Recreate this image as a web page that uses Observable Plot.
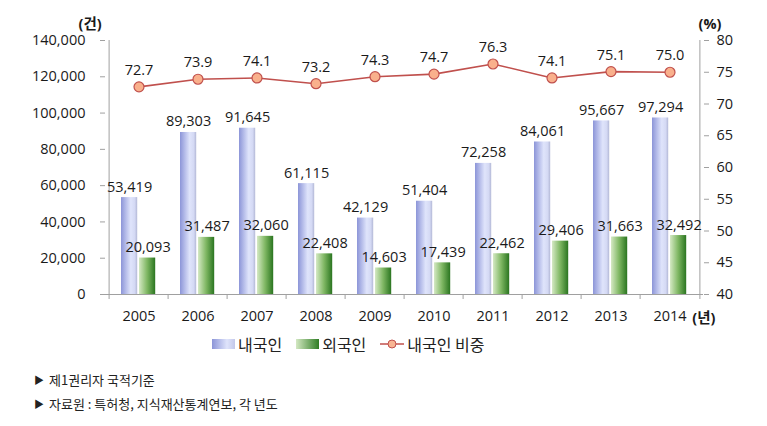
<!DOCTYPE html>
<html><head><meta charset="utf-8">
<script src="https://cdn.jsdelivr.net/npm/d3@7"></script>
<script src="https://cdn.jsdelivr.net/npm/@observablehq/plot@0.6"></script>
<style>
body{margin:0;background:#fff;font-family:"Open Sans","Noto Sans CJK KR",sans-serif;color:#222;}
#wrap{position:relative;width:767px;height:426px;}
#legend{position:absolute;top:332px;left:212px;display:flex;align-items:center;font-family:"Noto Sans CJK KR",sans-serif;font-size:16px;color:#222;}
.sw{display:inline-block;width:23px;height:10px;margin-right:3px;}
.item{display:flex;align-items:center;margin-right:14px;}
.notes{position:absolute;left:34px;font-family:"Noto Sans CJK KR",sans-serif;font-size:13px;color:#222;}
.tri{font-size:10px;margin-right:5px;vertical-align:1px;}
</style></head>
<body><div id="wrap"><div id="chart"></div>
<div id="legend">
 <div class="item"><span class="sw" style="background:linear-gradient(to right,#8c95d8,#dfe4fb 65%,#c3c8ea)"></span>내국인</div>
 <div class="item"><span class="sw" style="background:linear-gradient(to right,#d3e8c2,#2f7d24)"></span>외국인</div>
 <div class="item"><svg width="24" height="12" style="margin-right:3px"><line x1="0" x2="24" y1="6" y2="6" stroke="#c0504d" stroke-width="1.5"/><circle cx="12" cy="6" r="4" fill="#f8b593" stroke="#c0504d"/></svg>내국인 비중</div>
</div>
<div class="notes" style="top:370px"><span class="tri">▶</span>제1권리자 국적기준</div>
<div class="notes" style="top:394px"><span class="tri">▶</span>자료원 : 특허청, 지식재산통계연보, 각 년도</div>
</div>
<script>
const years = ["2005","2006","2007","2008","2009","2010","2011","2012","2013","2014"];
const domestic = [53419, 89303, 91645, 61115, 42129, 51404, 72258, 84061, 95667, 97294];
const foreign = [20093, 31487, 32060, 22408, 14603, 17439, 22462, 29406, 31663, 32492];
const share = [72.7, 73.9, 74.1, 73.2, 74.3, 74.7, 76.3, 74.1, 75.1, 75.0];
const leftTicks = [0, 20000, 40000, 60000, 80000, 100000, 120000, 140000];
const rightTicks = [40, 45, 50, 55, 60, 65, 70, 75, 80];

const LMAX = 140000, RMIN = 40, RMAX = 80;
const toLeft = p => (p - RMIN) / (RMAX - RMIN) * LMAX;
const fromLeft = v => Math.round(v / LMAX * (RMAX - RMIN) + RMIN);

const data = years.map((y, i) => ({year: y, domestic: domestic[i], foreign: foreign[i], share: share[i]}));
const fmt = d3.format(",");
const W = 767, ML = 105, MR = 64;
const bw = (W - ML - MR) / years.length;
const axisGrey = "#a0a0a0";

const chart = Plot.plot({
  width: W, height: 334,
  marginLeft: ML, marginRight: MR, marginTop: 40, marginBottom: 40,
  style: {fontFamily: '"Open Sans","Noto Sans CJK KR",sans-serif', fontSize: "14.5px", color: "#1a1a1a", background: "#fff"},
  x: {type: "band", domain: years, padding: 0},
  y: {domain: [0, LMAX]},
  marks: [
    Plot.barY(data, {x: "year", y: "domestic", fill: "url(#gBlue)", insetLeft: 12, insetRight: bw - 29}),
    Plot.barY(data, {x: "year", y: "foreign", fill: "url(#gGreen)", insetLeft: 30, insetRight: bw - 47}),
    Plot.ruleY([0], {stroke: axisGrey}),
    Plot.ruleX(years, {x: d => d, y1: 0, y2: -LMAX * 5 / 254, dx: -bw / 2, stroke: axisGrey}),
    Plot.ruleX([years[0]], {x: d => d, y1: 0, y2: LMAX, dx: -bw / 2, stroke: axisGrey}),
    Plot.ruleX([years[years.length - 1]], {x: d => d, y1: -LMAX * 5 / 254, y2: LMAX, dx: bw / 2, stroke: axisGrey}),
    Plot.axisY(leftTicks, {anchor: "left", tickFormat: fmt, tickSize: 5, tickPadding: 15, stroke: axisGrey, fill: "#1a1a1a", label: null}),
    Plot.axisY(rightTicks.map(toLeft), {anchor: "right", tickFormat: d => String(fromLeft(d)), tickSize: 5, tickPadding: 8, stroke: axisGrey, fill: "#1a1a1a", label: null}),
    Plot.axisX({tickSize: 0, tickPadding: 16, label: null, fill: "#1a1a1a"}),
    Plot.text(data, {x: "year", y: "domestic", text: d => fmt(d.domestic), dx: 20.5 - bw / 2, dy: -6, lineAnchor: "bottom", fill: "#1a1a1a"}),
    Plot.text(data, {x: "year", y: "foreign", text: d => fmt(d.foreign), dx: 39 - bw / 2, dy: -6, lineAnchor: "bottom", fill: "#1a1a1a"}),
    Plot.line(data, {x: "year", y: d => toLeft(d.share), stroke: "#c0504d", strokeWidth: 1.6}),
    Plot.dot(data, {x: "year", y: d => toLeft(d.share), r: 5, fill: "#f9b08c", stroke: "#c0504d", strokeWidth: 1.2}),
    Plot.text(data, {x: "year", y: d => toLeft(d.share), text: d => d.share.toFixed(1), dy: -12, lineAnchor: "bottom", fill: "#1a1a1a"}),
    Plot.text(["(건)"], {frameAnchor: "top-left", dx: -27, dy: -22, fontWeight: "bold", fill: "#1a1a1a"}),
    Plot.text(["(%)"], {frameAnchor: "top-right", dx: 18, dy: -22, fontWeight: "bold", fill: "#1a1a1a"}),
    Plot.text(["(년)"], {frameAnchor: "bottom-right", dx: 12, dy: 28, fontWeight: "bold", fill: "#1a1a1a"})
  ]
});

const defs = d3.select(chart).insert("defs", ":first-child");
const gb = defs.append("linearGradient").attr("id", "gBlue").attr("x1", "0").attr("x2", "1").attr("y1", "0").attr("y2", "0");
gb.append("stop").attr("offset", "0").attr("stop-color", "#8c95d8");
gb.append("stop").attr("offset", "0.6").attr("stop-color", "#dfe4fb");
gb.append("stop").attr("offset", "0.85").attr("stop-color", "#d4d9f4");
gb.append("stop").attr("offset", "1").attr("stop-color", "#b3b8d6");
const gg = defs.append("linearGradient").attr("id", "gGreen").attr("x1", "0").attr("x2", "1").attr("y1", "0").attr("y2", "0");
gg.append("stop").attr("offset", "0").attr("stop-color", "#d5e9c4");
gg.append("stop").attr("offset", "0.5").attr("stop-color", "#7fb763");
gg.append("stop").attr("offset", "1").attr("stop-color", "#2a7520");

document.getElementById("chart").appendChild(chart);
</script></body></html>
